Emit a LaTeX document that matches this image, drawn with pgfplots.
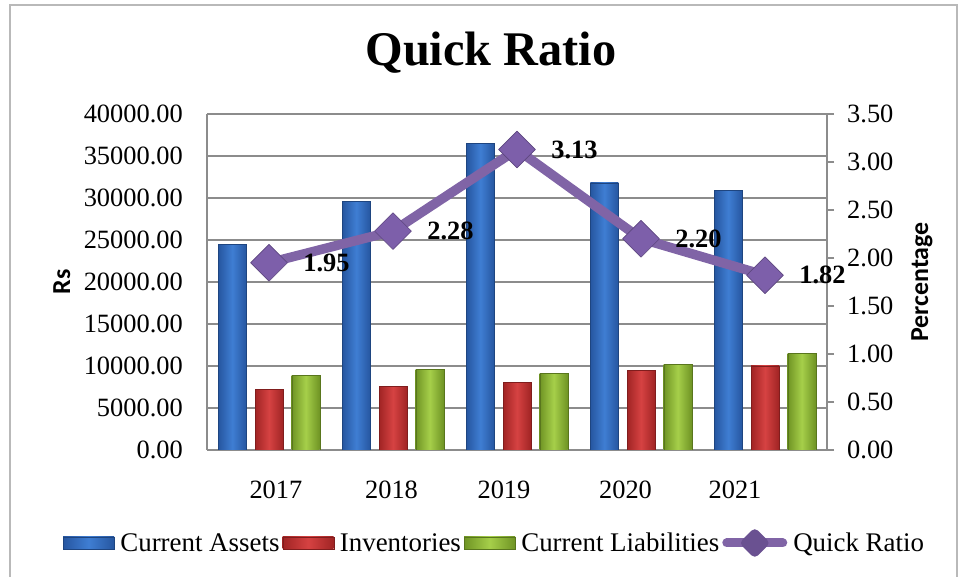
\documentclass[border=0pt]{standalone}
\usepackage{pgfplots}
\pgfplotsset{compat=1.18}
\usepackage{pgfplotstable}
\usepackage{fontspec}
\setmainfont{Liberation Serif}
\newfontfamily\carlito{Carlito}
\definecolor{caEdge}{HTML}{2656A0}
\definecolor{caMid}{HTML}{3F7ED3}
\definecolor{inEdge}{HTML}{A02424}
\definecolor{inMid}{HTML}{D64242}
\definecolor{clEdge}{HTML}{6F9424}
\definecolor{clMid}{HTML}{A6CF4A}
\definecolor{qrLine}{HTML}{8064A6}
\definecolor{qrMark}{HTML}{7D5FAA}
\definecolor{gridc}{HTML}{8C8C8C}
\pgfplotstableread{
x ca inv cl
0 24500 7250 8850
1 29600 7540 9600
2 36500 8060 9130
3 31800 9520 10160
4 30950 10000 11500
}\bars
\pgfplotstableread{
x qr
0 1.95
1 2.28
2 3.13
3 2.20
4 1.82
}\ratio
\newcommand\tf{\fontsize{26.5}{28}\selectfont}
\pgfplotsset{
  caStyle/.style={draw=caEdge!80!black, line width=0.4bp, left color=caEdge, right color=caEdge, middle color=caMid},
  inStyle/.style={draw=inEdge!80!black, line width=0.4bp, left color=inEdge, right color=inEdge, middle color=inMid},
  clStyle/.style={draw=clEdge!80!black, line width=0.4bp, left color=clEdge, right color=clEdge, middle color=clMid},
  barLegend/.style={legend image code/.code={\draw[##1] (0bp,-6bp) rectangle (51bp,6bp);}},
}
\begin{document}
\begin{tikzpicture}[x=1bp,y=1bp]
\useasboundingbox (0,0) rectangle (960,577);
\draw[gray!55, line width=1.5bp] (10,-20) rectangle (957,572);
\begin{axis}[
  at={(207bp,127bp)}, anchor=south west, scale only axis,
  width=620bp, height=336bp,
  xmin=-0.5, xmax=4.5, ymin=0, ymax=40000,
  axis y line*=left, axis x line*=bottom,
  axis line style={gridc, line width=1.2bp},
  ymajorgrids, grid style={gridc, line width=1.2bp},
  ytick={0,5000,...,40000},
  scaled y ticks=false,
  /pgf/number format/assume math mode=true,
  yticklabel={\pgfmathprintnumber[fixed,fixed zerofill,precision=2,1000 sep={}]{\tick}},
  yticklabel style={font=\tf, inner sep=0pt, anchor=east, xshift=-24bp},
  ytick style={draw=none},
  xtick={0.056,0.988,1.895,2.875,3.758},
  xticklabels={2017,2018,2019,2020,2021},
  xtick style={draw=none},
  xticklabel style={font=\tf, inner sep=0pt, anchor=north, yshift=-31bp},
  ylabel={\carlito\bfseries Rs},
  ylabel style={font=\fontsize{26}{28}\selectfont, at={(axis description cs:-0.234,0.5)}, anchor=center},
  title={\fontsize{48.5}{50}\selectfont\bfseries Quick Ratio},
  title style={at={(axis description cs:0.458,1.128)}, anchor=base, inner sep=0pt},
]
\pgfplotsinvokeforeach{0,...,4}{
  \addplot[ybar, bar width=28bp, bar shift=-36.7bp, caStyle, restrict x to domain=#1:#1] table[x=x,y=ca]{\bars};
  \addplot[ybar, bar width=28bp, bar shift=0bp, inStyle, restrict x to domain=#1:#1] table[x=x,y=inv]{\bars};
  \addplot[ybar, bar width=28bp, bar shift=36.7bp, clStyle, restrict x to domain=#1:#1] table[x=x,y=cl]{\bars};
}
\end{axis}
\begin{axis}[
  at={(207bp,127bp)}, anchor=south west, scale only axis,
  width=620bp, height=336bp,
  xmin=-0.5, xmax=4.5, ymin=0, ymax=3.5,
  axis y line*=right, axis x line=none,
  axis line style={gridc, line width=1.2bp},
  ytick={0,0.5,...,3.5},
  tick align=outside, major tick length=7bp,
  ytick style={gridc, line width=1.2bp},
  /pgf/number format/assume math mode=true,
  yticklabel={\pgfmathprintnumber[fixed,fixed zerofill,precision=2]{\tick}},
  yticklabel style={font=\tf, inner sep=0pt, anchor=west, xshift=13bp},
  ylabel={\carlito\bfseries Percentage},
  ylabel style={font=\fontsize{26}{28}\selectfont, at={(axis description cs:1.153,0.5)}, anchor=center},
  legend columns=4,
  legend style={at={(axis description cs:0.4645,-0.2768)}, anchor=center, draw=none, fill=none,
    font=\fontsize{27}{29}\selectfont, inner sep=0pt,
    /tikz/every odd column/.append style={column sep=3bp},
    /tikz/every even column/.append style={column sep=0bp},
    nodes={inner sep=3bp}},
]
\addlegendimage{caStyle, barLegend}
\addlegendentry{Current Assets}
\addlegendimage{inStyle, barLegend}
\addlegendentry{Inventories}
\addlegendimage{clStyle, barLegend}
\addlegendentry{Current Liabilities}
\addplot[qrLine, line width=9.5bp, line join=round,
  mark=square*, mark size=13bp,
  mark options={rotate=45, fill=qrMark, draw=qrMark!75!black, line width=0.6bp},
  nodes near coords={\pgfmathprintnumber[fixed,fixed zerofill,precision=2]{\pgfplotspointmeta}},
  point meta=y,
  every node near coord/.append style={anchor=west, xshift=34bp, inner sep=0pt, font=\tf\bfseries, text=black},
  legend image code/.code={\draw[qrLine, line width=9bp, line cap=round] (0bp,0bp) -- (56bp,0bp);
     \fill[qrMark!85!black] (28bp,-9bp) -- (37bp,0bp) -- (28bp,9bp) -- (19bp,0bp) -- cycle;},
] table[x=x,y=qr]{\ratio};
\addlegendentry{Quick Ratio}
\end{axis}
\end{tikzpicture}
\end{document}
